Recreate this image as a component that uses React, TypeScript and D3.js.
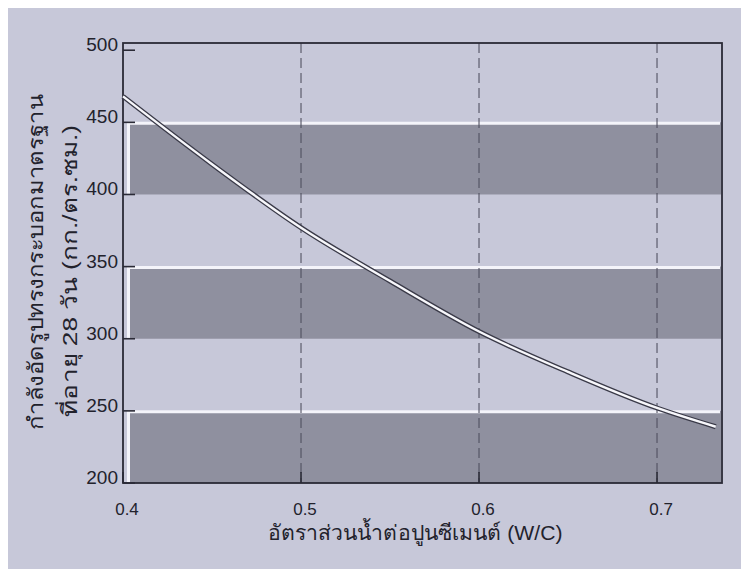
import React from "react";
import * as d3 from "d3";

const wcRatio = [0.4, 0.45, 0.5, 0.55, 0.6, 0.65, 0.7, 0.733];
const strength = [468, 421, 377, 340, 305, 277, 252, 239];
const yTicks = [200, 250, 300, 350, 400, 450, 500];
const xTicks = [0.4, 0.5, 0.6, 0.7];
const gridTicks = [0.5, 0.6, 0.7];
const bandLows = [400, 300, 200];
const bandHighs = [450, 350, 250];
const yTitle1 = "กำลังอัดรูปทรงกระบอกมาตรฐาน";
const yTitle2 = "ที่อายุ 28 วัน (กก./ตร.ซม.)";
const xTitle = "อัตราส่วนน้ำต่อปูนซีเมนต์ (W/C)";

const W = 749;
const H = 569;
const L = 123, R = 722, T = 43, B = 483;

export default function App() {
  const x = d3.scaleLinear().domain([0.4, 0.7365]).range([L, R]);
  const y = d3.scaleLinear().domain([200, 505]).range([B, T]);
  const pts: [number, number][] = wcRatio.map((w, i) => [w, strength[i]]);
  const line = d3
    .line<[number, number]>()
    .x((d) => x(d[0]))
    .y((d) => y(d[1]))
    .curve(d3.curveMonotoneX);
  const path = line(pts) || "";
  const font = "'Liberation Sans', Arial, 'Noto Sans', sans-serif";
  const txt = "#22222c";
  return (
    <svg
      width={W - 8}
      height={H - 8}
      style={{ display: "block" }}
      fontFamily={font}
    >
      <g transform="translate(-8,-8)">
        <rect x={8} y={8} width={W} height={H} fill="#c7c8d9" />
        {/* bands */}
        {bandLows.map((lo, i) => {
          const hi = bandHighs[i];
          const yt = y(hi);
          const yb = y(lo);
          return (
            <g key={"b" + i}>
              <rect x={L + 6} y={yt} width={R - L - 7} height={yb - yt} fill="#8f909f" />
              <line x1={L + 5} x2={R - 2} y1={yt + 1} y2={yt + 1} stroke="#f4f4fa" strokeWidth={3} />
              <line x1={L + 5.5} x2={L + 5.5} y1={yt} y2={yb} stroke="#f4f4fa" strokeWidth={3} />
            </g>
          );
        })}
        {/* dashed gridlines */}
        {gridTicks.map((t) => (
          <line
            key={"g" + t}
            x1={x(t)}
            x2={x(t)}
            y1={T}
            y2={B}
            stroke="#4e4e5e"
            strokeWidth={1.5}
            strokeDasharray="10,5"
            opacity={0.7}
          />
        ))}
        {/* frame */}
        <rect x={L} y={T} width={R - L} height={B - T} fill="none" stroke="#2a2a36" strokeWidth={1.8} />
        {/* y ticks */}
        {yTicks.map((t) => (
          <g key={"yt" + t}>
            <line x1={L} x2={L + 12} y1={y(t)} y2={y(t)} stroke="#2a2a36" strokeWidth={1.6} />
            <text x={118} y={y(t) + 1} textAnchor="end" fontSize={19} fill={txt}>
              {t}
            </text>
          </g>
        ))}
        {/* x ticks */}
        {xTicks.map((t) => (
          <g key={"xt" + t}>
            <line x1={x(t)} x2={x(t)} y1={B} y2={B - 11} stroke="#2a2a36" strokeWidth={1.6} />
            <text x={x(t) + 4} y={515} textAnchor="middle" fontSize={17} fill={txt}>
              {t.toFixed(1)}
            </text>
          </g>
        ))}
        {/* curve */}
        <path d={path} fill="none" stroke="#3a3a48" strokeWidth={5} strokeLinecap="butt" />
        <path d={path} fill="none" stroke="#f7f7fb" strokeWidth={2.4} strokeLinecap="butt" />
        {/* axis titles */}
        <text
          transform="translate(43,262) rotate(-90)"
          textAnchor="middle"
          fontSize={21}
          fill={txt}
          textLength={335}
          lengthAdjust="spacingAndGlyphs"
        >
          {yTitle1}
        </text>
        <text
          transform="translate(77,271) rotate(-90)"
          textAnchor="middle"
          fontSize={21}
          fill={txt}
          textLength={292}
          lengthAdjust="spacingAndGlyphs"
        >
          {yTitle2}
        </text>
        <text
          x={415}
          y={540}
          textAnchor="middle"
          fontSize={21}
          fill={txt}
          textLength={295}
          lengthAdjust="spacingAndGlyphs"
        >
          {xTitle}
        </text>
      </g>
    </svg>
  );
}
